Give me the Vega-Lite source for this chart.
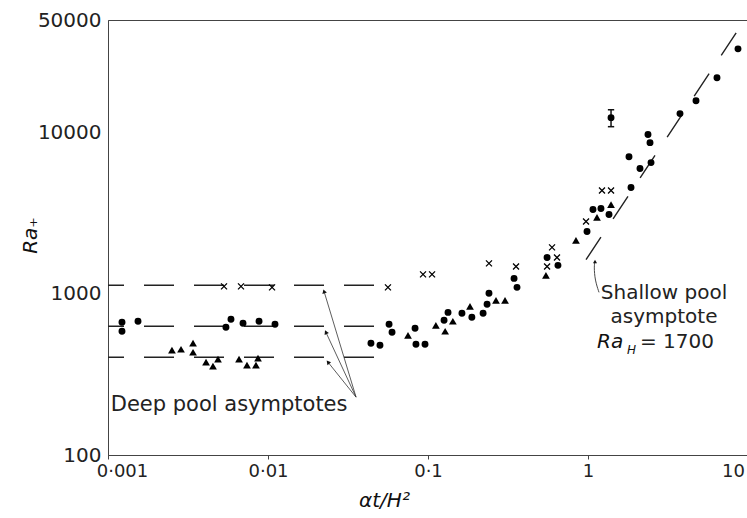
{
  "$schema": "https://vega.github.io/schema/vega-lite/v6.json",
  "width": 640,
  "height": 435,
  "autosize": "none",
  "padding": {"left": 108, "top": 20, "right": 0, "bottom": 63},
  "background": "white",
  "config": {
    "view": {"stroke": "#444", "strokeWidth": 1},
    "font": "DejaVu Sans"
  },
  "datasets": {
    "circles": [
      {"tau": 0.001223, "ra": 666}, {"tau": 0.001223, "ra": 586}, {"tau": 0.00154, "ra": 676},
      {"tau": 0.00546, "ra": 620}, {"tau": 0.00587, "ra": 695}, {"tau": 0.00698, "ra": 656},
      {"tau": 0.00879, "ra": 676}, {"tau": 0.01106, "ra": 647}, {"tau": 0.044, "ra": 494},
      {"tau": 0.0501, "ra": 480}, {"tau": 0.0571, "ra": 647}, {"tau": 0.0596, "ra": 578},
      {"tau": 0.083, "ra": 611}, {"tau": 0.0841, "ra": 486}, {"tau": 0.0958, "ra": 486},
      {"tau": 0.1334, "ra": 767}, {"tau": 0.126, "ra": 685}, {"tau": 0.163, "ra": 757},
      {"tau": 0.188, "ra": 715}, {"tau": 0.221, "ra": 757}, {"tau": 0.234, "ra": 861},
      {"tau": 0.2405, "ra": 1007}, {"tau": 0.345, "ra": 1247}, {"tau": 0.36, "ra": 1097},
      {"tau": 0.555, "ra": 1682}, {"tau": 0.649, "ra": 1502}, {"tau": 0.986, "ra": 2438},
      {"tau": 1.074, "ra": 3334}, {"tau": 1.205, "ra": 3381}, {"tau": 1.353, "ra": 3105},
      {"tau": 1.857, "ra": 4563}, {"tau": 2.113, "ra": 5985}, {"tau": 2.477, "ra": 6520},
      {"tau": 1.804, "ra": 7096}, {"tau": 2.371, "ra": 9730}, {"tau": 2.441, "ra": 8670},
      {"tau": 3.758, "ra": 13130}, {"tau": 4.732, "ra": 15780}, {"tau": 6.4, "ra": 21930},
      {"tau": 8.66, "ra": 33110}, {"tau": 1.393, "ra": 12390}
    ],
    "triangles": [
      {"tau": 0.00251, "ra": 447}, {"tau": 0.00286, "ra": 453}, {"tau": 0.0034, "ra": 494},
      {"tau": 0.0034, "ra": 434}, {"tau": 0.0041, "ra": 377}, {"tau": 0.00453, "ra": 356},
      {"tau": 0.00487, "ra": 393}, {"tau": 0.00659, "ra": 393}, {"tau": 0.00739, "ra": 361},
      {"tau": 0.00841, "ra": 361}, {"tau": 0.00866, "ra": 399}, {"tau": 0.075, "ra": 553},
      {"tau": 0.112, "ra": 638}, {"tau": 0.128, "ra": 586}, {"tau": 0.143, "ra": 676},
      {"tau": 0.183, "ra": 837}, {"tau": 0.266, "ra": 912}, {"tau": 0.303, "ra": 912},
      {"tau": 0.546, "ra": 1302}, {"tau": 0.841, "ra": 2143}, {"tau": 1.138, "ra": 2978},
      {"tau": 1.393, "ra": 3581}
    ],
    "crosses": [
      {"tau": 0.00531, "ra": 1112}, {"tau": 0.00678, "ra": 1112}, {"tau": 0.0106, "ra": 1097},
      {"tau": 0.0562, "ra": 1097}, {"tau": 0.0931, "ra": 1320}, {"tau": 0.106, "ra": 1320},
      {"tau": 0.2405, "ra": 1545}, {"tau": 0.355, "ra": 1479}, {"tau": 0.596, "ra": 1941},
      {"tau": 0.555, "ra": 1479}, {"tau": 0.64, "ra": 1682}, {"tau": 0.972, "ra": 2812},
      {"tau": 1.223, "ra": 4375}, {"tau": 1.393, "ra": 4375}
    ],
    "deep": [
      {"level": "cross", "tau": 0.001, "ra": 1129}, {"level": "cross", "tau": 0.0473, "ra": 1129},
      {"level": "circle", "tau": 0.001, "ra": 629}, {"level": "circle", "tau": 0.0473, "ra": 629},
      {"level": "triangle", "tau": 0.001, "ra": 404}, {"level": "triangle", "tau": 0.0473, "ra": 404}
    ],
    "shallow": [
      {"tau": 0.972, "ra": 1629}, {"tau": 8.66, "ra": 43320}
    ],
    "arrows": [
      {"arrow": "top", "tau": 0.0355, "ra": 228.6}, {"arrow": "top", "tau": 0.0224, "ra": 1036},
      {"arrow": "mid", "tau": 0.0355, "ra": 228.6}, {"arrow": "mid", "tau": 0.023, "ra": 578},
      {"arrow": "bot", "tau": 0.0355, "ra": 228.6}, {"arrow": "bot", "tau": 0.0237, "ra": 377}
    ],
    "leader": [
      {"k": 1, "tau": 1.172, "ra": 1021}, {"k": 2, "tau": 1.106, "ra": 1212},
      {"k": 3, "tau": 1.09, "ra": 1479}, {"k": 4, "tau": 1.106, "ra": 1589}
    ]
  },
  "encoding": {
    "x": {
      "field": "tau", "type": "quantitative",
      "scale": {"type": "log", "domain": [0.001, 10], "nice": false, "zero": false},
      "axis": {
        "values": [0.001, 0.01, 0.1, 1, 10],
        "labelExpr": "datum.value < 0.005 ? '0·001' : datum.value < 0.05 ? '0·01' : datum.value < 0.5 ? '0·1' : datum.value < 5 ? '1' : '10'",
        "grid": false, "domainColor": "#444", "tickColor": "#444", "tickSize": 4,
        "labelFontSize": 18, "labelFont": "DejaVu Sans", "labelColor": "#222",
        "labelPadding": 3, "labelFlush": false, "labelOverlap": false,
        "labelOffset": {"condition": [{"test": "datum.value < 0.005", "value": 14}, {"test": "datum.value > 5", "value": -15}], "value": 0},
        "title": "αt/H²", "titleFont": "DejaVu Sans", "titleFontSize": 20, "titleFontStyle": "italic",
        "titleFontWeight": "normal", "titleColor": "#111",
        "titleX": 276, "titleY": 45, "titleAlign": "center", "titleBaseline": "middle"
      }
    },
    "y": {
      "field": "ra", "type": "quantitative",
      "scale": {"type": "log", "domain": [100, 50000], "nice": false, "zero": false},
      "axis": {
        "values": [100, 1000, 10000, 50000], "format": "d",
        "grid": false, "domainColor": "#444", "ticks": false,
        "labelFontSize": 20, "labelFont": "DejaVu Sans", "labelColor": "#222",
        "labelPadding": 7, "labelFlush": false, "labelOverlap": false,
        "title": "Ra₊", "titleFont": "DejaVu Sans", "titleFontSize": 20, "titleFontStyle": "italic",
        "titleFontWeight": "normal", "titleColor": "#111",
        "titleX": -78, "titleY": 215, "titleAlign": "center", "titleBaseline": "middle", "titleAngle": -90
      }
    }
  },
  "layer": [
    {
      "data": {"name": "deep"},
      "mark": {"type": "line", "stroke": "#222", "strokeWidth": 1.5, "strokeDash": [30, 20], "strokeDashOffset": 14},
      "encoding": {"detail": {"field": "level"}}
    },
    {
      "data": {"name": "shallow"},
      "mark": {"type": "line", "stroke": "#222", "strokeWidth": 1.4, "strokeDash": [27, 22]},
      "encoding": {}
    },
    {
      "data": {"name": "arrows"},
      "mark": {"type": "line", "stroke": "#333", "strokeWidth": 0.8},
      "encoding": {"detail": {"field": "arrow"}}
    },
    {
      "data": {"name": "arrows"},
      "transform": [{"filter": "datum.arrow == 'top' && datum.ra > 500"}],
      "mark": {"type": "point", "shape": "triangle-up", "filled": true, "color": "#111", "opacity": 1, "size": 22, "angle": -17}
    },
    {
      "data": {"name": "arrows"},
      "transform": [{"filter": "datum.arrow == 'mid' && datum.ra > 500"}],
      "mark": {"type": "point", "shape": "triangle-up", "filled": true, "color": "#111", "opacity": 1, "size": 22, "angle": -25}
    },
    {
      "data": {"name": "arrows"},
      "transform": [{"filter": "datum.arrow == 'bot' && datum.ra > 300"}],
      "mark": {"type": "point", "shape": "triangle-up", "filled": true, "color": "#111", "opacity": 1, "size": 22, "angle": -39}
    },
    {
      "data": {"name": "leader"},
      "mark": {"type": "line", "stroke": "#333", "strokeWidth": 0.9, "interpolate": "basis"},
      "encoding": {"order": {"field": "k", "type": "quantitative"}}
    },
    {
      "data": {"name": "leader"},
      "transform": [{"filter": "datum.k == 4"}],
      "mark": {"type": "point", "shape": "triangle-up", "filled": true, "color": "#111", "opacity": 1, "size": 16}
    },
    {
      "data": {"values": [{"tau": 1.393, "ra": 10890, "ra2": 13870}]},
      "mark": {"type": "rule", "stroke": "#111", "strokeWidth": 1.5},
      "encoding": {"y2": {"field": "ra2"}}
    },
    {
      "data": {"values": [{"tau": 1.393, "ra": 10890}, {"tau": 1.393, "ra": 13870}]},
      "mark": {"type": "point", "shape": "stroke", "stroke": "#111", "strokeWidth": 1.5, "opacity": 1, "size": 40}
    },
    {
      "data": {"name": "circles"},
      "mark": {"type": "point", "shape": "circle", "filled": true, "color": "#000", "opacity": 1, "size": 48}
    },
    {
      "data": {"name": "triangles"},
      "mark": {"type": "point", "shape": "triangle-up", "filled": true, "color": "#000", "opacity": 1, "size": 60}
    },
    {
      "data": {"name": "crosses"},
      "mark": {"type": "point", "shape": "M-1,-1L1,1M-1,1L1,-1", "filled": false, "stroke": "#000", "strokeWidth": 1.3, "opacity": 1, "size": 36}
    },
    {
      "data": {"values": [{"tau": 0.00104, "ra": 204, "label": "Deep pool  asymptotes"}]},
      "mark": {"type": "text", "align": "left", "baseline": "middle", "font": "DejaVu Sans", "fontSize": 21, "color": "#222"},
      "encoding": {"text": {"field": "label"}}
    },
    {
      "data": {"values": [{"tau": 2.985, "ra": 1007, "label": "Shallow pool"}, {"tau": 2.985, "ra": 715, "label": "asymptote"}]},
      "mark": {"type": "text", "align": "center", "baseline": "middle", "font": "DejaVu Sans", "fontSize": 20, "color": "#222"},
      "encoding": {"text": {"field": "label"}}
    },
    {
      "data": {"values": [{"tau": 1.138, "ra": 501, "label": "Ra"}]},
      "mark": {"type": "text", "align": "left", "baseline": "middle", "font": "DejaVu Sans", "fontStyle": "italic", "fontSize": 20, "color": "#111"},
      "encoding": {"text": {"field": "label"}}
    },
    {
      "data": {"values": [{"tau": 1.753, "ra": 447, "label": "H"}]},
      "mark": {"type": "text", "align": "left", "baseline": "middle", "font": "DejaVu Sans", "fontStyle": "italic", "fontSize": 12, "color": "#111"},
      "encoding": {"text": {"field": "label"}}
    },
    {
      "data": {"values": [{"tau": 2.113, "ra": 501, "label": "= 1700"}]},
      "mark": {"type": "text", "align": "left", "baseline": "middle", "font": "DejaVu Sans", "fontSize": 20, "color": "#222"},
      "encoding": {"text": {"field": "label"}}
    }
  ]
}
